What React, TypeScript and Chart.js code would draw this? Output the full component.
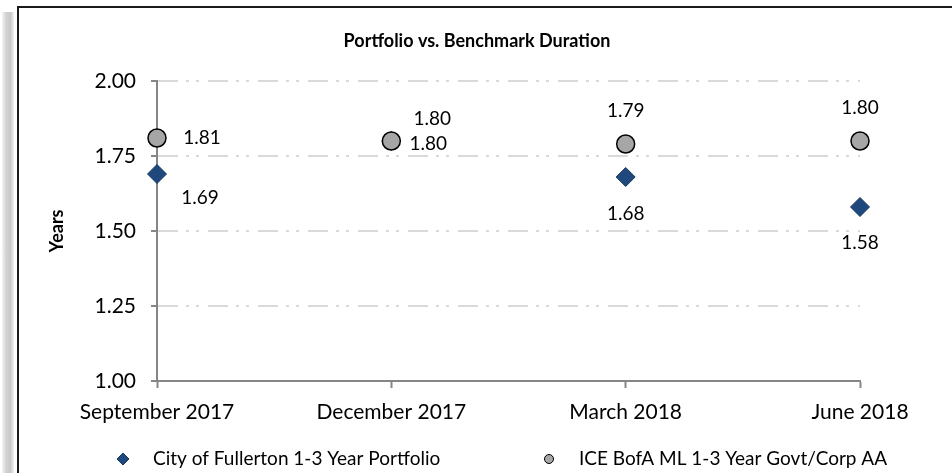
import React, { useEffect, useRef } from 'react';
import { Chart, registerables } from 'chart.js';

Chart.register(...registerables);

const categories = ['September 2017', 'December 2017', 'March 2018', 'June 2018'];
const portfolioValues = [1.69, 1.8, 1.68, 1.58];
const benchmarkValues = [1.81, 1.8, 1.79, 1.8];
const yTickValues = [1.0, 1.25, 1.5, 1.75, 2.0];
const seriesNames = ['City of Fullerton 1-3 Year Portfolio', 'ICE BofA ML 1-3 Year Govt/Corp AA'];
const chartTitle = 'Portfolio vs. Benchmark Duration';
const yAxisTitle = 'Years';

const FONT = 'Lato, "Noto Sans", sans-serif';
const PORTFOLIO_FILL = '#1f497d';
const PORTFOLIO_BORDER = '#17375e';
const BENCH_FILL = '#a6a6a6';
const BENCH_BORDER = '#000000';
const AXIS_GRAY = '#868686';
const GRID_GRAY = '#d9d9d9';

// label placement (pixel offsets from the marker), styling only
const portfolioLabelOffsets: [number, number][] = [[43, 24], [41, -22], [0, 37], [0, 36]];
const benchmarkLabelOffsets: [number, number][] = [[45, 0], [37, 3], [0, -33], [0, -33]];

const dataLabelPlugin = {
  id: 'dataLabelPlugin',
  afterDatasetsDraw(chart: any) {
    const ctx = chart.ctx;
    ctx.save();
    ctx.font = `19px ${FONT}`;
    ctx.fillStyle = '#000';
    ctx.textAlign = 'center';
    ctx.textBaseline = 'middle';
    chart.data.datasets.forEach((ds: any, di: number) => {
      const meta = chart.getDatasetMeta(di);
      const offsets = ds.labelOffsets as [number, number][];
      meta.data.forEach((el: any, i: number) => {
        const v = ds.data[i];
        const [dx, dy] = offsets[i];
        ctx.fillText(Number(v).toFixed(2), el.x + dx, el.y + dy);
      });
    });
    ctx.restore();
  },
};

const legendPlugin = {
  id: 'customLegend',
  afterDraw(chart: any) {
    const ctx = chart.ctx;
    const y = 459;
    const markerXs = [123, 549];
    ctx.save();
    chart.data.datasets.forEach((ds: any, i: number) => {
      const mx = markerXs[i];
      ctx.beginPath();
      if (ds.pointStyle === 'rectRot') {
        const r = 6;
        ctx.moveTo(mx - r, y);
        ctx.lineTo(mx, y - r);
        ctx.lineTo(mx + r, y);
        ctx.lineTo(mx, y + r);
        ctx.closePath();
      } else {
        ctx.arc(mx, y, 4.5, 0, Math.PI * 2);
      }
      ctx.fillStyle = ds.pointBackgroundColor;
      ctx.fill();
      ctx.lineWidth = 1;
      ctx.strokeStyle = ds.pointBorderColor;
      ctx.stroke();
      ctx.font = `19px ${FONT}`;
      ctx.fillStyle = '#000';
      ctx.textAlign = 'left';
      ctx.textBaseline = 'middle';
      ctx.fillText(ds.label, mx + 30, y);
    });
    ctx.restore();
  },
};

export default function App() {
  const canvasRef = useRef<HTMLCanvasElement | null>(null);

  useEffect(() => {
    const canvas = canvasRef.current;
    if (!canvas) return;
    const chart = new Chart(canvas, {
      type: 'line',
      data: {
        labels: categories,
        datasets: [
          {
            label: seriesNames[0],
            data: portfolioValues,
            showLine: false,
            pointStyle: 'rectRot',
            pointRadius: 9.5,
            pointHoverRadius: 9.5,
            pointBackgroundColor: PORTFOLIO_FILL,
            pointBorderColor: PORTFOLIO_BORDER,
            pointBorderWidth: 1,
            borderColor: PORTFOLIO_FILL,
            backgroundColor: PORTFOLIO_FILL,
            order: 2,
            labelOffsets: portfolioLabelOffsets,
          } as any,
          {
            label: seriesNames[1],
            data: benchmarkValues,
            showLine: false,
            pointStyle: 'circle',
            pointRadius: 9,
            pointHoverRadius: 9,
            pointBackgroundColor: BENCH_FILL,
            pointBorderColor: BENCH_BORDER,
            pointBorderWidth: 1.5,
            borderColor: BENCH_FILL,
            backgroundColor: BENCH_FILL,
            order: 1,
            labelOffsets: benchmarkLabelOffsets,
          } as any,
        ],
      },
      options: {
        responsive: false,
        animation: false,
        events: [],
        layout: { padding: { left: 44, right: 42, top: 0, bottom: 32 } },
        plugins: {
          legend: { display: false },
          tooltip: { enabled: false },
          title: {
            display: true,
            text: chartTitle,
            color: '#000',
            font: { family: FONT, size: 18, weight: 'bold' },
            padding: { top: 30, bottom: 29.4 },
          },
        },
        scales: {
          x: {
            type: 'category',
            offset: false,
            grid: {
              display: true,
              drawOnChartArea: false,
              drawTicks: true,
              tickLength: 7,
              tickColor: AXIS_GRAY,
              tickWidth: 2,
            },
            border: { display: true, color: AXIS_GRAY, width: 2 },
            ticks: {
              color: '#000',
              font: { family: FONT, size: 21 },
              padding: 12,
              maxRotation: 0,
              autoSkip: false,
            },
            afterFit: (s: any) => {
              s.height = 60;
            },
          },
          y: {
            type: 'linear',
            position: 'left',
            min: 1,
            max: 2,
            afterBuildTicks: (s: any) => {
              s.ticks = yTickValues.map((v) => ({ value: v }));
            },
            grid: {
              display: true,
              drawOnChartArea: true,
              drawTicks: true,
              tickLength: 6,
              tickColor: AXIS_GRAY,
              tickWidth: 2,
              tickBorderDash: [],
              lineWidth: 2,
              color: (c: any) => (c.tick && c.tick.value === 1 ? 'rgba(0,0,0,0)' : GRID_GRAY),
            },
            border: { display: true, color: AXIS_GRAY, width: 2, dash: [20, 8, 3, 7, 3, 9] },
            ticks: {
              color: '#000',
              font: { family: FONT, size: 21 },
              padding: 15,
              callback: (v: any) => Number(v).toFixed(2),
            },
            title: {
              display: true,
              text: yAxisTitle,
              color: '#000',
              font: { family: FONT, size: 18, weight: 'bold' },
              padding: { top: 2, bottom: 0 },
            },
            afterFit: (s: any) => {
              s.width = 113;
            },
          },
          yRight: {
            type: 'linear',
            position: 'right',
            display: true,
            grid: { display: false, drawTicks: false },
            border: { display: false },
            ticks: { display: false },
            afterFit: (s: any) => {
              s.width = 50;
            },
          },
        },
      } as any,
      plugins: [dataLabelPlugin, legendPlugin],
    });
    return () => chart.destroy();
  }, []);

  return (
    <div style={{ position: 'fixed', left: 0, top: 0, width: 952, height: 473, overflow: 'hidden', background: '#fff' }}>
      <div
        style={{
          position: 'absolute',
          left: 2,
          top: 12,
          width: 12,
          height: 480,
          background: 'linear-gradient(to right, #f4f4f4 0%, #d2d2d2 35%, #c9c9c9 70%, #f2f2f2 100%)',
        }}
      />
      <div
        style={{
          position: 'absolute',
          left: 17,
          top: 6,
          width: 1000,
          height: 600,
          border: '2px solid #1a1a1a',
          background: '#fff',
        }}
      />
      <canvas
        ref={canvasRef}
        width={952}
        height={473}
        style={{ position: 'absolute', left: 0, top: 0, width: 952, height: 473 }}
      />
    </div>
  );
}
